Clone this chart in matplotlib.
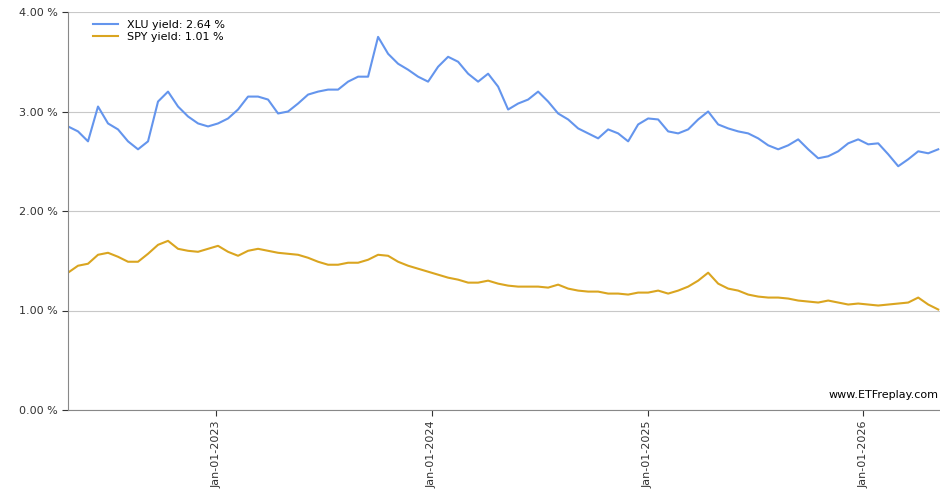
import matplotlib
matplotlib.use("Agg")
import matplotlib.pyplot as plt
import matplotlib.dates as mdates
from matplotlib.ticker import FixedLocator, FuncFormatter
import pandas as pd

start_date = "2022-04-25"
end_date = "2026-05-08"
xlu = [2.85,2.8,2.7,3.05,2.88,2.82,2.7,2.62,2.7,3.1,3.2,3.05,2.95,2.88,2.85,2.88,2.93,3.02,3.15,3.15,
       3.12,2.98,3.0,3.08,3.17,3.2,3.22,3.22,3.3,3.35,3.35,3.75,3.58,3.48,3.42,3.35,3.3,3.45,3.55,3.5,
       3.38,3.3,3.38,3.25,3.02,3.08,3.12,3.2,3.1,2.98,2.92,2.83,2.78,2.73,2.82,2.78,2.7,2.87,2.93,2.92,
       2.8,2.78,2.82,2.92,3.0,2.87,2.83,2.8,2.78,2.73,2.66,2.62,2.66,2.72,2.62,2.53,2.55,2.6,2.68,2.72,
       2.67,2.68,2.57,2.45,2.52,2.6,2.58,2.62]
spy = [1.38,1.45,1.47,1.56,1.58,1.54,1.49,1.49,1.57,1.66,1.7,1.62,1.6,1.59,1.62,1.65,1.59,1.55,1.6,1.62,
       1.6,1.58,1.57,1.56,1.53,1.49,1.46,1.46,1.48,1.48,1.51,1.56,1.55,1.49,1.45,1.42,1.39,1.36,1.33,1.31,
       1.28,1.28,1.3,1.27,1.25,1.24,1.24,1.24,1.23,1.26,1.22,1.2,1.19,1.19,1.17,1.17,1.16,1.18,1.18,1.2,
       1.17,1.2,1.24,1.3,1.38,1.27,1.22,1.2,1.16,1.14,1.13,1.13,1.12,1.1,1.09,1.08,1.1,1.08,1.06,1.07,
       1.06,1.05,1.06,1.07,1.08,1.13,1.06,1.01]
dates = pd.date_range(start_date, end_date, periods=len(xlu))
xticks = ["2023-01-01", "2024-01-01", "2025-01-01", "2026-01-01"]
yticks = [0, 1, 2, 3, 4]

fig = plt.figure(figsize=(9.4, 5), dpi=100)
ax = fig.add_axes([68/940, 90/500, 1 - 68/940, 398/500])
ax.plot(dates, xlu, color="#6495ED", lw=1.5, label="XLU yield: 2.64 %")
ax.plot(dates, spy, color="#DAA520", lw=1.5, label="SPY yield: 1.01 %")
ax.set_xlim(dates[0], dates[-1] + pd.Timedelta(days=3))
ax.set_ylim(0, 4)
ax.yaxis.set_major_locator(FixedLocator(yticks))
ax.yaxis.set_major_formatter(FuncFormatter(lambda v, p: f"{v:.2f} %"))
ax.grid(axis="y", color="#c8c8c8", lw=0.8)
ax.set_axisbelow(True)
ax.set_xticks([pd.Timestamp(d) for d in xticks])
ax.xaxis.set_major_formatter(mdates.DateFormatter("%b-%d-%Y"))
plt.setp(ax.get_xticklabels(), rotation=90, fontsize=8)
plt.setp(ax.get_yticklabels(), fontsize=8)
for s in ["top", "right"]:
    ax.spines[s].set_visible(False)
ax.spines["left"].set_color("#888888")
ax.spines["bottom"].set_color("#888888")
ax.tick_params(colors="#333333", length=4)
ax.legend(loc="upper left", frameon=False, fontsize=8, handlelength=2.2,
          bbox_to_anchor=(0.02, 1.0), borderaxespad=0.3, labelspacing=0.2)
ax.text(0.998, 0.025, "www.ETFreplay.com", transform=ax.transAxes, ha="right", va="bottom", fontsize=8)
fig.savefig("out.png", dpi=100)
